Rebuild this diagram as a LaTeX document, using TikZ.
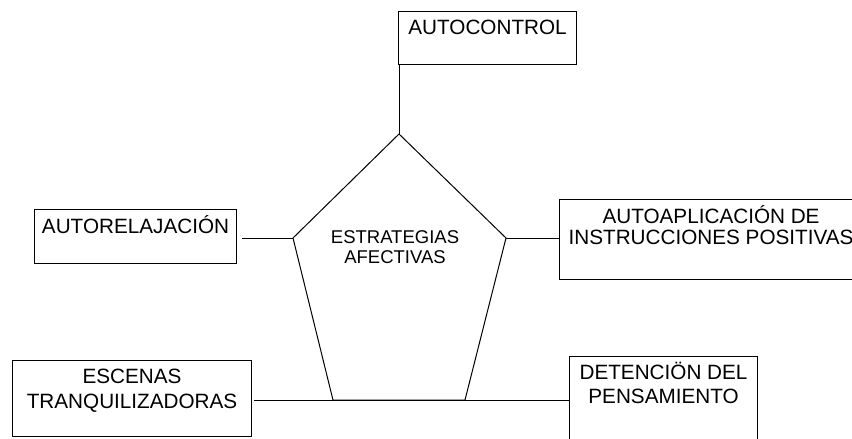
\documentclass[tikz,border=0pt]{standalone}
\usepackage{fontspec}
\setmainfont{Liberation Sans}
\usepackage{tikz}
\usetikzlibrary{positioning}

\newcommand{\boxlines}[1]{\begin{tabular}[t]{@{}c@{}}#1\end{tabular}}

\begin{document}
\begin{tikzpicture}[x=1pt,y=-1pt,
  box/.style={draw,line width=1.1pt,inner sep=0pt,anchor=north west,
    font=\fontsize{20.7}{24}\selectfont},
  link/.style={line width=1pt}]
\clip (0,0) rectangle (852,439);
% cajas
\node[box,minimum width=178pt,text height=23pt,text depth=30pt] (autocontrol) at (398,11) {AUTOCONTROL};
\node[box,minimum width=202pt,text height=24pt,text depth=30pt] (autorelajacion) at (34,209) {AUTORELAJACIÓN};
\node[box,minimum width=303pt,text height=24pt,text depth=56pt,font=\fontsize{20.7}{21}\selectfont] (autoaplicacion) at (559,199) {\boxlines{AUTOAPLICACIÓN DE\\INSTRUCCIONES POSITIVAS}};
\node[box,minimum width=239pt,text height=23pt,text depth=53pt,font=\fontsize{20.7}{25}\selectfont] (escenas) at (12,360) {\boxlines{ESCENAS\\TRANQUILIZADORAS}};
\node[box,minimum width=188pt,text height=23pt,text depth=81pt] (detencion) at (569,356) {\boxlines{DETENCIÖN DEL\\PENSAMIENTO}};
% pentagono
\coordinate (apex) at (399,134);
\coordinate (pl) at (293,238);
\coordinate (pr) at (506,238);
\coordinate (pbl) at (333,400);
\coordinate (pbr) at (465,400);
\draw[link] (apex) -- (pr) -- (pbr) -- (pbl) -- (pl) -- cycle;
\node[font=\fontsize{18.5}{20}\selectfont,anchor=base] (estrategias) at (395,243) {\boxlines{ESTRATEGIAS\\AFECTIVAS}};
% uniones
\draw[link] (apex |- autocontrol.south) -- (apex);
\draw[link,shorten <=5pt] (pl -| autorelajacion.east) -- (pl);
\draw[link] (pr) -- (pr -| autoaplicacion.west);
\draw[link,shorten <=2pt] (pbl -| escenas.east) -- (pbr -| detencion.west);
\end{tikzpicture}
\end{document}
